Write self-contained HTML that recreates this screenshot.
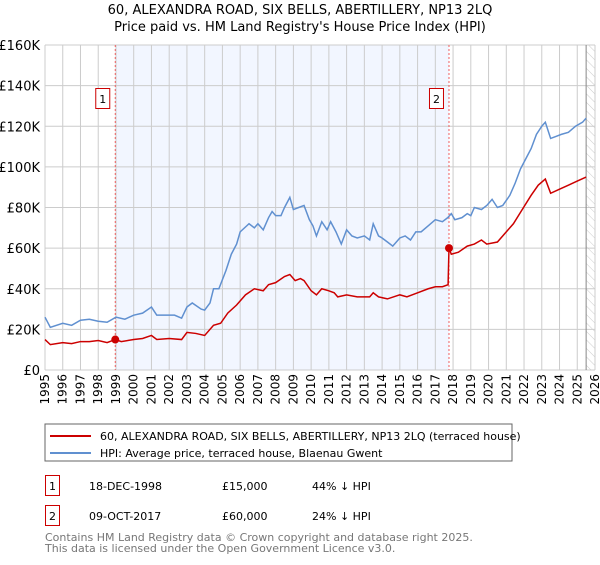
<!DOCTYPE html>
<html><head><meta charset="utf-8"><style>
body{margin:0;background:#fff;font-family:"Liberation Sans","DejaVu Sans",sans-serif;}
svg text{font-family:"DejaVu Sans","Liberation Sans",sans-serif;}
</style></head><body>
<svg id="c" width="600" height="560" xmlns="http://www.w3.org/2000/svg">
<defs><pattern id="hatch" width="6" height="6" patternUnits="userSpaceOnUse" patternTransform="rotate(-45)"><line x1="0" y1="0" x2="0" y2="6" stroke="#ccc" stroke-width="1"/></pattern></defs>
<text x="300" y="14" text-anchor="middle" font-size="13">60, ALEXANDRA ROAD, SIX BELLS, ABERTILLERY, NP13 2LQ</text>
<text x="300" y="31" text-anchor="middle" font-size="13">Price paid vs. HM Land Registry's House Price Index (HPI)</text>
<g id="plot"></g>
<rect x="45" y="424" width="467" height="37" fill="#fff" stroke="#666"/>
<line x1="50" y1="436" x2="91" y2="436" stroke="#cc0000" stroke-width="2"/>
<text x="100" y="440" font-size="11">60, ALEXANDRA ROAD, SIX BELLS, ABERTILLERY, NP13 2LQ (terraced house)</text>
<line x1="50" y1="453" x2="91" y2="453" stroke="#6090d0" stroke-width="2"/>
<text x="100" y="457" font-size="11">HPI: Average price, terraced house, Blaenau Gwent</text>
<rect x="45.5" y="475.5" width="14" height="20" fill="none" stroke="#cc0000"/>
<text x="52.5" y="490" font-size="11" text-anchor="middle">1</text>
<text x="89" y="490" font-size="11">18-DEC-1998</text>
<text x="222" y="490" font-size="11">£15,000</text>
<text x="312" y="490" font-size="11">44% ↓ HPI</text>
<rect x="45.5" y="505.5" width="14" height="20" fill="none" stroke="#cc0000"/>
<text x="52.5" y="520" font-size="11" text-anchor="middle">2</text>
<text x="89" y="520" font-size="11">09-OCT-2017</text>
<text x="222" y="520" font-size="11">£60,000</text>
<text x="312" y="520" font-size="11">24% ↓ HPI</text>
<text x="45" y="541" font-size="11" fill="#777">Contains HM Land Registry data © Crown copyright and database right 2025.</text>
<text x="45" y="552" font-size="11" fill="#777">This data is licensed under the Open Government Licence v3.0.</text>
</svg>
<script>
const yTicks=[0,20000,40000,60000,80000,100000,120000,140000,160000];
const yTickLabels=["£0","£20K","£40K","£60K","£80K","£100K","£120K","£140K","£160K"];
const xYears=[1995,1996,1997,1998,1999,2000,2001,2002,2003,2004,2005,2006,2007,2008,2009,2010,2011,2012,2013,2014,2015,2016,2017,2018,2019,2020,2021,2022,2023,2024,2025,2026];
const hpiT=[1995.0,1995.3,1996,1996.5,1997,1997.5,1998,1998.5,1999,1999.5,2000,2000.5,2001,2001.3,2001.8,2002.3,2002.7,2003,2003.3,2003.8,2004,2004.3,2004.5,2004.8,2005.2,2005.5,2005.8,2006,2006.5,2006.8,2007,2007.3,2007.6,2007.8,2008,2008.3,2008.5,2008.8,2009,2009.3,2009.6,2009.9,2010.1,2010.3,2010.6,2010.9,2011.1,2011.4,2011.7,2012,2012.3,2012.6,2013,2013.3,2013.5,2013.8,2014,2014.3,2014.6,2015,2015.3,2015.6,2015.9,2016.2,2016.6,2017,2017.4,2017.7,2017.9,2018.1,2018.5,2018.8,2019,2019.2,2019.6,2019.9,2020.2,2020.5,2020.8,2021.2,2021.5,2021.8,2022.1,2022.4,2022.7,2023,2023.2,2023.5,2023.8,2024.1,2024.5,2024.9,2025.3,2025.5];
const hpiV=[26,21,23,22,24.5,25,24,23.5,26,25,27,28,31,27,27,27,25.5,31,33,30,29.5,33,40,40,49,57,62,68,72,70,72,69,75,78,76,76,80,85,79,80,81,74,71,66,73,69,73,68,62,69,66,65,66,64,72,66,65,63,61,65,66,64,68,68,71,74,73,75,77,74,75,77,76,80,79,81,84,80,81,86,92,99,104,109,116,120,122,114,115,116,117,120,122,124];
const ppT=[1995,1995.3,1996,1996.5,1997,1997.5,1998,1998.5,1998.96,1999.3,2000,2000.5,2001,2001.3,2002,2002.7,2003,2003.5,2004,2004.5,2004.9,2005.3,2005.8,2006.3,2006.8,2007.3,2007.6,2008,2008.5,2008.8,2009.1,2009.4,2009.6,2010,2010.3,2010.6,2011,2011.3,2011.5,2012,2012.6,2013,2013.3,2013.5,2013.8,2014.3,2015,2015.4,2016,2016.6,2017,2017.4,2017.72,2017.77,2017.9,2018.3,2018.8,2019.2,2019.6,2019.9,2020.5,2020.9,2021.4,2021.9,2022.4,2022.8,2023.2,2023.5,2024,2024.5,2025,2025.5];
const ppV=[15,12.5,13.5,13,14,14,14.5,13.5,15,14,15,15.5,17,15,15.5,15,18.5,18,17,22,23,28,32,37,40,39,42,43,46,47,44,45,44,39,37,40,39,38,36,37,36,36,36,38,36,35,37,36,38,40,41,41,42,60,57,58,61,62,64,62,63,67,72,79,86,91,94,87,89,91,93,95];
const saleT=[1998.96,2017.77];
const saleV=[15000,60000];
const saleLabels=["1","2"];

const X0=45,X1=595,Y0=370,Y1=45;
const xs=t=>X0+(t-1995)/(2026-1995)*(X1-X0);
const ys=v=>Y0-v/160000*(Y0-Y1);
const g=document.getElementById('plot');
const NS='http://www.w3.org/2000/svg';
function mk(tag,a){const e=document.createElementNS(NS,tag);for(const k in a)e.setAttribute(k,a[k]);g.appendChild(e);return e;}
let e;
e=mk('rect',{x:xs(saleT[0]),y:Y1,width:xs(saleT[1])-xs(saleT[0]),height:Y0-Y1,fill:'#f2f6ff'});


e=mk('rect',{x:xs(2025.5),y:Y1,width:X1-xs(2025.5),height:Y0-Y1,fill:'url(#hatch)'});


xYears.forEach(yr=>{
 e=mk('line',{x1:xs(yr),x2:xs(yr),y1:Y1,y2:Y0,stroke:'#ccc','stroke-width':1});
 
 
 const t=mk('text',{x:0,y:0,'font-size':12,'text-anchor':'end',transform:`translate(${xs(yr)+4},374) rotate(-90)`});
 t.textContent=yr;
 
 
});
yTicks.forEach((v,i)=>{
 e=mk('line',{x1:X0,x2:X1,y1:ys(v),y2:ys(v),stroke:'#ccc','stroke-width':1});
 
 
 const t=mk('text',{x:40,y:ys(v)+5,'font-size':13,'text-anchor':'end'});
 t.textContent=yTickLabels[i];
 
 
});
e=mk('line',{x1:xs(2025.5),x2:xs(2025.5),y1:Y1,y2:Y0,stroke:'#888','stroke-width':1});


saleT.forEach((t,i)=>{
 e=mk('line',{x1:xs(t),x2:xs(t),y1:Y1,y2:Y0,stroke:'#f06060','stroke-width':1,'stroke-dasharray':'2,2'});
 
 
 e=mk('rect',{x:xs(t)-19.5,y:88.5,width:14,height:20,fill:'#fff',stroke:'#cc0000'});
 
 
 const tx=mk('text',{x:xs(t)-12.5,y:103,'font-size':11,'text-anchor':'middle'});
 tx.textContent=saleLabels[i];
 
 
});
e=mk('polyline',{points:hpiT.map((t,i)=>xs(t)+','+ys(hpiV[i]*1000)).join(' '),fill:'none',stroke:'#6090d0','stroke-width':1.5});


e=mk('polyline',{points:ppT.map((t,i)=>xs(t)+','+ys(ppV[i]*1000)).join(' '),fill:'none',stroke:'#cc0000','stroke-width':1.5});


saleT.forEach((t,i)=>{
 e=mk('circle',{cx:xs(t),cy:ys(saleV[i]),r:4,fill:'#cc0000'});
 
 
});
</script>
</body></html>
